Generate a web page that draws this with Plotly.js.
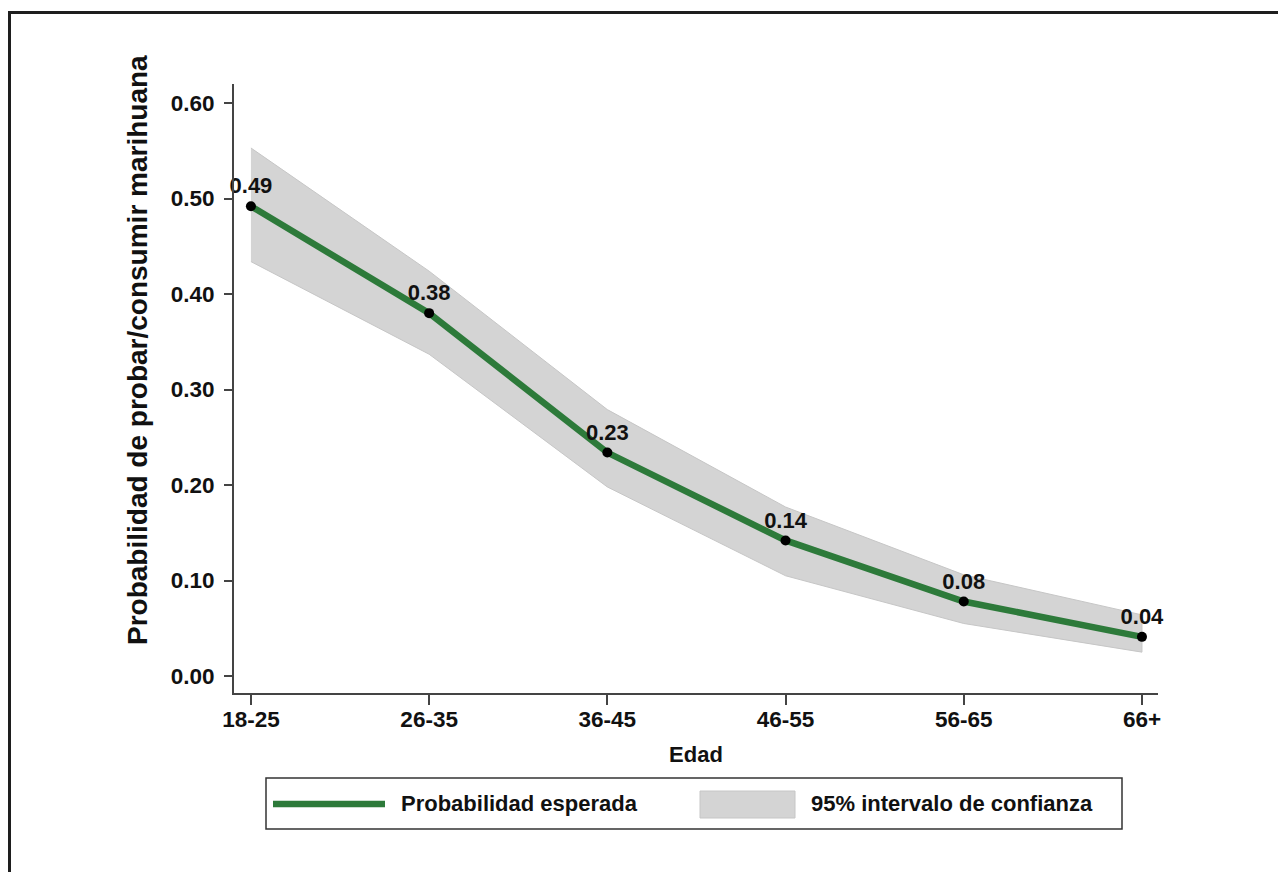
<!DOCTYPE html>
<html>
<head>
<meta charset="utf-8">
<script src="https://cdn.plot.ly/plotly-3.0.1.min.js"></script>
<style>
  html, body { margin: 0; padding: 0; background: #fff; overflow: hidden; }
  #wrap { position: relative; width: 1278px; height: 872px; overflow: hidden; }
  #frame { position: absolute; left: 8px; top: 11px; width: 1400px; height: 1000px; border: 3px solid #1e1e1e; box-sizing: border-box; pointer-events: none; z-index: 5; }
  #chart { position: absolute; left: 0; top: 0; width: 1278px; height: 872px; }
</style>
</head>
<body>
<div id="wrap">
  <div id="chart"></div>
  <div id="frame"></div>
</div>
<script>
// ---- data ----
const categories = ["18-25", "26-35", "36-45", "46-55", "56-65", "66+"];
const probEsperada = [0.492, 0.380, 0.234, 0.142, 0.078, 0.041];
const ciLower = [0.434, 0.337, 0.198, 0.105, 0.055, 0.025];
const ciUpper = [0.553, 0.424, 0.279, 0.177, 0.106, 0.064];
const yTicks = [0.0, 0.1, 0.2, 0.3, 0.4, 0.5, 0.6];
const legendLabels = ["Probabilidad esperada", "95% intervalo de confianza"];
const xTitle = "Edad";
const yTitle = "Probabilidad de probar/consumir marihuana";

// ---- style ----
const GREEN = "#2d7a3a";
const BAND = "#d4d4d4";
const AX = "#444444";
const FONT = "Liberation Sans, Arial, Helvetica, sans-serif";

// plot area in pixels
const L = 234, R = 1158, T = 84, B = 693;
const W = 1278, H = 872;
const px = v => (v - L) / (R - L);
const py = v => (B - v) / (B - T);

const bandTrace = {
  x: categories.concat(categories.slice().reverse()),
  y: ciUpper.concat(ciLower.slice().reverse()),
  type: "scatter",
  mode: "lines",
  fill: "toself",
  fillcolor: BAND,
  line: { color: "#c6c6c6", width: 1 },
  hoverinfo: "skip",
  showlegend: false
};

const lineTrace = {
  x: categories,
  y: probEsperada,
  type: "scatter",
  mode: "lines",
  line: { color: GREEN, width: 6.5 },
  showlegend: false
};

const pointTrace = {
  x: categories,
  y: probEsperada,
  type: "scatter",
  mode: "markers+text",
  marker: { color: "#000", size: 10 },
  texttemplate: "%{y:.2f}",
  textposition: "top center",
  cliponaxis: false,
  textfont: { family: FONT, size: 22, color: "#111", weight: "bold" },
  showlegend: false
};

const layout = {
  width: W, height: H,
  margin: { l: L, r: W - R, t: T, b: H - B, pad: 0 },
  paper_bgcolor: "#fff",
  plot_bgcolor: "#fff",
  showlegend: false,
  font: { family: FONT, size: 22, color: "#111", weight: "bold" },
  xaxis: {
    type: "category",
    range: [-0.095, 5.09],
    showgrid: false, zeroline: false,
    showline: true, linecolor: AX, linewidth: 2,
    ticks: "outside", ticklen: 10, tickwidth: 2, tickcolor: AX,
    ticklabelstandoff: -5,
    tickfont: { family: FONT, size: 22.5, color: "#111", weight: "bold" },
    title: { text: xTitle, font: { family: FONT, size: 22, color: "#111", weight: "bold" }, standoff: 16 }
  },
  yaxis: {
    range: [-0.0178, 0.620],
    tickvals: yTicks,
    tickformat: ".2f",
    showgrid: false, zeroline: false,
    showline: true, linecolor: AX, linewidth: 2,
    ticks: "outside", ticklen: 8, tickwidth: 2, tickcolor: AX,
    ticklabelstandoff: 5,
    tickfont: { family: FONT, size: 22.5, color: "#111", weight: "bold" }
  },
  annotations: [
    { text: yTitle, xref: "paper", yref: "paper", x: px(137), y: py(350), textangle: -90,
      showarrow: false, xanchor: "center", yanchor: "middle",
      font: { family: FONT, size: 28, color: "#111", weight: "bold" } },
    { text: legendLabels[0], xref: "paper", yref: "paper", x: px(399), y: py(804),
      showarrow: false, xanchor: "left", yanchor: "middle",
      font: { family: FONT, size: 22, color: "#111", weight: "bold" } },
    { text: legendLabels[1], xref: "paper", yref: "paper", x: px(809), y: py(804),
      showarrow: false, xanchor: "left", yanchor: "middle",
      font: { family: FONT, size: 22, color: "#111", weight: "bold" } }
  ],
  shapes: [
    { type: "rect", xref: "paper", yref: "paper", x0: px(266), x1: px(1122), y0: py(829), y1: py(778),
      line: { color: "#333", width: 1.5 }, fillcolor: "rgba(0,0,0,0)" },
    { type: "line", xref: "paper", yref: "paper", x0: px(273), x1: px(385), y0: py(804), y1: py(804),
      line: { color: GREEN, width: 6.5 } },
    { type: "rect", xref: "paper", yref: "paper", x0: px(700), x1: px(795), y0: py(818), y1: py(791),
      line: { color: "#c6c6c6", width: 1 }, fillcolor: BAND }
  ]
};

Plotly.newPlot("chart", [bandTrace, lineTrace, pointTrace], layout, { displayModeBar: false, staticPlot: true });
</script>
</body>
</html>
